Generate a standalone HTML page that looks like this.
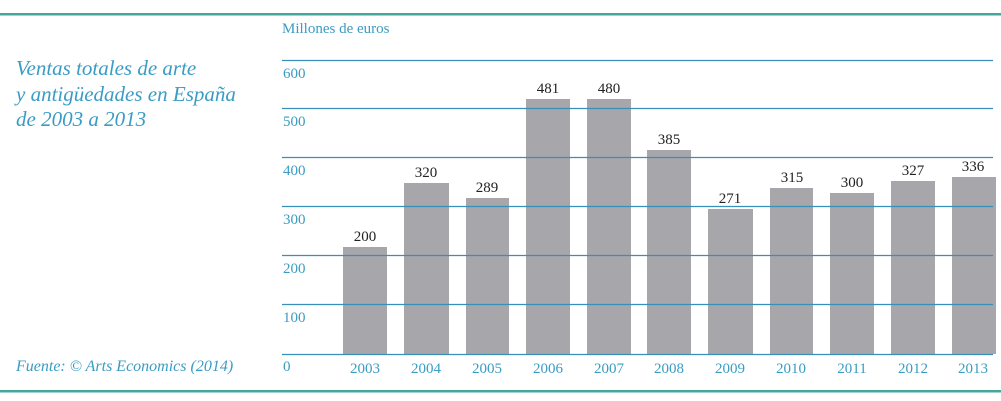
<!DOCTYPE html>
<html><head><meta charset="utf-8"><style>
html,body{margin:0;padding:0;background:#fff;}
svg{display:block;}
</style></head><body>
<svg width="1001" height="401" viewBox="0 0 1001 401" xmlns="http://www.w3.org/2000/svg" font-family="Liberation Serif, serif">
<rect x="0" y="0" width="1001" height="401" fill="#fff"/>
<rect x="0" y="13" width="1001" height="2.5" fill="#45a79c"/>
<rect x="0" y="390" width="1001" height="2.5" fill="#45a79c"/>
<g fill="#3a9cc4" font-style="italic" font-size="21">
<text x="16" y="75">Ventas totales de arte</text>
<text x="16" y="101">y antigüedades en España</text>
<text x="16" y="126">de 2003 a 2013</text>
<text x="16" y="371" font-size="16">Fuente: © Arts Economics (2014)</text>
</g>
<text x="282" y="33" fill="#3a9cc4" font-size="15">Millones de euros</text>
<g fill="#a7a6ab">
<rect x="343" y="247" width="44" height="107"/>
<rect x="404" y="183" width="45" height="171"/>
<rect x="466" y="198" width="43" height="156"/>
<rect x="526" y="99" width="44" height="255"/>
<rect x="587" y="99" width="44" height="255"/>
<rect x="647" y="150" width="44" height="204"/>
<rect x="708" y="209" width="45" height="145"/>
<rect x="770" y="188" width="43" height="166"/>
<rect x="830" y="193" width="44" height="161"/>
<rect x="891" y="181" width="44" height="173"/>
<rect x="952" y="177" width="44" height="177"/>
</g>
<g stroke="#3a8fb8" stroke-width="1.2">
<line x1="282" y1="60.5" x2="993" y2="60.5"/>
<line x1="282" y1="108.5" x2="993" y2="108.5"/>
<line x1="282" y1="157.5" x2="993" y2="157.5"/>
<line x1="282" y1="206.5" x2="993" y2="206.5"/>
<line x1="282" y1="255.5" x2="993" y2="255.5"/>
<line x1="282" y1="304.5" x2="993" y2="304.5"/>
<line x1="282" y1="354.5" x2="993" y2="354.5"/>
</g>
<g fill="#3a9cc4" font-size="15">
<text x="283" y="78">600</text>
<text x="283" y="126">500</text>
<text x="283" y="175">400</text>
<text x="283" y="224">300</text>
<text x="283" y="273">200</text>
<text x="283" y="322">100</text>
<text x="283" y="371">0</text>
</g>
<g fill="#3a9cc4" font-size="15" text-anchor="middle">
<text x="365" y="373">2003</text>
<text x="426" y="373">2004</text>
<text x="487" y="373">2005</text>
<text x="548" y="373">2006</text>
<text x="609" y="373">2007</text>
<text x="669" y="373">2008</text>
<text x="730" y="373">2009</text>
<text x="791" y="373">2010</text>
<text x="852" y="373">2011</text>
<text x="913" y="373">2012</text>
<text x="973" y="373">2013</text>
</g>
<g fill="#222" font-size="15" text-anchor="middle">
<text x="365" y="241">200</text>
<text x="426" y="177">320</text>
<text x="487" y="192">289</text>
<text x="548" y="93">481</text>
<text x="609" y="93">480</text>
<text x="669" y="144">385</text>
<text x="730" y="203">271</text>
<text x="792" y="182">315</text>
<text x="852" y="187">300</text>
<text x="913" y="175">327</text>
<text x="973" y="171">336</text>
</g>
</svg>
</body></html>
